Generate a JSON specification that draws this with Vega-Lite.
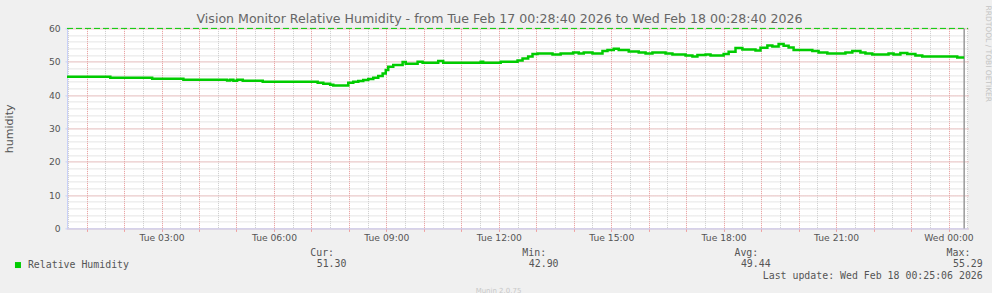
{
  "$schema": "https://vega.github.io/schema/vega-lite/v6.json",
  "background": "#f0f0f0",
  "padding": {"left": 3, "top": 4.4, "right": 0, "bottom": 0},
  "bounds": "flush",
  "spacing": 10,
  "config": {
    "view": {"stroke": null},
    "font": "DejaVu Sans",
    "legend": {"symbolBaseFillColor": "#00cc00"}
  },
  "datasets": {
    "humidity": [
      {"t": "2026-02-17T00:28:40", "h": 45.5},
      {"t": "2026-02-17T01:38:00", "h": 45.2},
      {"t": "2026-02-17T02:45:00", "h": 44.9},
      {"t": "2026-02-17T03:35:00", "h": 44.6},
      {"t": "2026-02-17T04:45:00", "h": 44.4},
      {"t": "2026-02-17T04:50:00", "h": 44.6},
      {"t": "2026-02-17T04:55:00", "h": 44.3},
      {"t": "2026-02-17T05:01:00", "h": 44.6},
      {"t": "2026-02-17T05:10:00", "h": 44.3},
      {"t": "2026-02-17T05:42:00", "h": 44.0},
      {"t": "2026-02-17T07:10:00", "h": 43.7},
      {"t": "2026-02-17T07:19:00", "h": 43.4},
      {"t": "2026-02-17T07:30:00", "h": 43.1},
      {"t": "2026-02-17T07:35:00", "h": 42.9},
      {"t": "2026-02-17T07:59:00", "h": 43.7},
      {"t": "2026-02-17T08:07:00", "h": 44.0},
      {"t": "2026-02-17T08:15:00", "h": 44.2},
      {"t": "2026-02-17T08:23:00", "h": 44.5},
      {"t": "2026-02-17T08:31:00", "h": 44.8},
      {"t": "2026-02-17T08:39:00", "h": 45.2},
      {"t": "2026-02-17T08:47:00", "h": 45.7},
      {"t": "2026-02-17T08:54:00", "h": 46.5},
      {"t": "2026-02-17T08:59:00", "h": 47.5},
      {"t": "2026-02-17T09:03:00", "h": 48.5},
      {"t": "2026-02-17T09:11:00", "h": 49.0},
      {"t": "2026-02-17T09:26:00", "h": 49.9},
      {"t": "2026-02-17T09:31:00", "h": 49.4},
      {"t": "2026-02-17T09:50:00", "h": 50.0},
      {"t": "2026-02-17T09:58:00", "h": 49.7},
      {"t": "2026-02-17T10:23:00", "h": 50.2},
      {"t": "2026-02-17T10:31:00", "h": 49.7},
      {"t": "2026-02-17T11:31:00", "h": 50.0},
      {"t": "2026-02-17T11:35:00", "h": 49.7},
      {"t": "2026-02-17T12:03:00", "h": 50.0},
      {"t": "2026-02-17T12:30:00", "h": 50.4},
      {"t": "2026-02-17T12:38:00", "h": 51.0},
      {"t": "2026-02-17T12:47:00", "h": 51.6},
      {"t": "2026-02-17T12:54:00", "h": 52.3},
      {"t": "2026-02-17T13:02:00", "h": 52.5},
      {"t": "2026-02-17T13:26:00", "h": 52.2},
      {"t": "2026-02-17T13:39:00", "h": 52.5},
      {"t": "2026-02-17T13:59:00", "h": 52.8},
      {"t": "2026-02-17T14:08:00", "h": 52.5},
      {"t": "2026-02-17T14:16:00", "h": 52.8},
      {"t": "2026-02-17T14:30:00", "h": 52.5},
      {"t": "2026-02-17T14:46:00", "h": 53.2},
      {"t": "2026-02-17T14:54:00", "h": 53.5},
      {"t": "2026-02-17T15:04:00", "h": 53.9},
      {"t": "2026-02-17T15:12:00", "h": 53.5},
      {"t": "2026-02-17T15:28:00", "h": 53.1},
      {"t": "2026-02-17T15:44:00", "h": 52.8},
      {"t": "2026-02-17T15:55:00", "h": 52.5},
      {"t": "2026-02-17T16:06:00", "h": 52.8},
      {"t": "2026-02-17T16:27:00", "h": 52.5},
      {"t": "2026-02-17T16:38:00", "h": 52.2},
      {"t": "2026-02-17T16:59:00", "h": 51.9},
      {"t": "2026-02-17T17:10:00", "h": 51.6},
      {"t": "2026-02-17T17:18:00", "h": 52.0},
      {"t": "2026-02-17T17:31:00", "h": 52.2},
      {"t": "2026-02-17T17:39:00", "h": 51.9},
      {"t": "2026-02-17T18:00:00", "h": 52.3},
      {"t": "2026-02-17T18:08:00", "h": 53.0},
      {"t": "2026-02-17T18:19:00", "h": 54.1},
      {"t": "2026-02-17T18:30:00", "h": 53.7},
      {"t": "2026-02-17T18:51:00", "h": 53.4},
      {"t": "2026-02-17T18:59:00", "h": 54.2},
      {"t": "2026-02-17T19:10:00", "h": 54.9},
      {"t": "2026-02-17T19:18:00", "h": 54.6},
      {"t": "2026-02-17T19:28:00", "h": 55.3},
      {"t": "2026-02-17T19:36:00", "h": 54.8},
      {"t": "2026-02-17T19:44:00", "h": 54.3},
      {"t": "2026-02-17T19:52:00", "h": 53.5},
      {"t": "2026-02-17T20:22:00", "h": 53.2},
      {"t": "2026-02-17T20:32:00", "h": 52.8},
      {"t": "2026-02-17T20:46:00", "h": 52.5},
      {"t": "2026-02-17T21:15:00", "h": 52.8},
      {"t": "2026-02-17T21:26:00", "h": 53.2},
      {"t": "2026-02-17T21:39:00", "h": 52.8},
      {"t": "2026-02-17T21:47:00", "h": 52.5},
      {"t": "2026-02-17T21:58:00", "h": 52.2},
      {"t": "2026-02-17T22:24:00", "h": 52.5},
      {"t": "2026-02-17T22:32:00", "h": 52.2},
      {"t": "2026-02-17T22:43:00", "h": 52.6},
      {"t": "2026-02-17T22:54:00", "h": 52.3},
      {"t": "2026-02-17T23:07:00", "h": 51.9},
      {"t": "2026-02-17T23:18:00", "h": 51.6},
      {"t": "2026-02-18T00:14:00", "h": 51.3},
      {"t": "2026-02-18T00:25:06", "h": 51.3}
    ],
    "refs": [{"upper": 60, "low": 0, "start": "2026-02-17T00:28:40", "end": "2026-02-18T00:31:12", "last_update": "2026-02-18T00:25:06"}],
    "stats": [
      {"stat": "Cur", "label": "Cur:", "value": "51.30"},
      {"stat": "Min", "label": "Min:", "value": "42.90"},
      {"stat": "Avg", "label": "Avg:", "value": "49.44"},
      {"stat": "Max", "label": "Max:", "value": "55.29"}
    ],
    "update": [{"stat": "Max", "text": "Last update: Wed Feb 18 00:25:06 2026"}]
  },
  "vconcat": [
    {
      "width": 901,
      "height": 200,
      "title": {
        "text": "Vision Monitor Relative Humidity - from Tue Feb 17 00:28:40 2026 to Wed Feb 18 00:28:40 2026",
        "anchor": "start", "frame": "group", "dx": 129.5, "dy": 23, "offset": 2,
        "font": "DejaVu Sans", "fontSize": 12.6, "fontWeight": "normal", "color": "#666666"
      },
      "view": {"fill": "#ffffff", "stroke": null},
      "layer": [
        {
          "data": {"name": "refs"},
          "mark": {"type": "rule", "color": "#00cc00", "strokeDash": [6, 3], "strokeWidth": 1},
          "encoding": {
            "x": {
              "field": "start", "type": "temporal",
              "axis": {"orient": "bottom", "tickCount": 48, "grid": true, "gridColor": "#cccccc", "gridDash": [1, 1],
                       "labels": false, "ticks": false, "domain": false, "title": null}
            },
            "x2": {"field": "end"},
            "y": {
              "field": "upper", "type": "quantitative",
              "axis": {"orient": "left", "values": [0, 2, 4, 6, 8, 10, 12, 14, 16, 18, 20, 22, 24, 26, 28, 30, 32, 34, 36, 38, 40, 42, 44, 46, 48, 50, 52, 54, 56, 58, 60],
                       "grid": true, "gridColor": "#cccccc", "gridDash": [1, 1],
                       "labels": false, "ticks": false, "domain": false, "title": null}
            }
          }
        },
        {
          "data": {"name": "refs"},
          "mark": {"type": "rule", "color": "#999999", "strokeWidth": 1.5},
          "encoding": {
            "x": {
              "field": "last_update", "type": "temporal",
              "axis": {"orient": "bottom", "tickCount": 24, "grid": true, "gridColor": "#f0a0a0", "gridDash": [1, 1],
                       "labels": false, "ticks": true, "tickColor": "#f0a0a0", "tickSize": 3, "domain": false, "title": null}
            },
            "y": {
              "field": "low", "type": "quantitative",
              "axis": {
                "orient": "left", "values": [0, 10, 20, 30, 40, 50, 60],
                "grid": true, "gridColor": "#f0a0a0", "gridDash": [1, 1],
                "labelFont": "DejaVu Sans", "labelFontSize": 9.2, "labelColor": "#555555", "labelPadding": 4.8,
                "tickColor": "#c8d0f8", "tickSize": 2,
                "domainColor": "#c8d0f8",
                "title": "humidity", "titleFont": "DejaVu Sans", "titleFontSize": 11.1, "titleFontWeight": "normal",
                "titleColor": "#555555", "titlePadding": 34
              }
            },
            "y2": {"field": "upper"}
          }
        },
        {
          "data": {"name": "humidity"},
          "mark": {"type": "line", "interpolate": "step-after", "strokeWidth": 2.5},
          "encoding": {
            "x": {
              "field": "t", "type": "temporal",
              "scale": {"domain": [
                {"year": 2026, "month": 2, "date": 17, "hours": 0, "minutes": 28, "seconds": 40},
                {"year": 2026, "month": 2, "date": 18, "hours": 0, "minutes": 31, "seconds": 12}
              ]},
              "axis": {
                "orient": "bottom", "title": null, "tickCount": 8, "format": "%a %H:%M",
                "labelOverlap": false, "labelFlush": false, "labelPadding": 5,
                "labelFont": "DejaVu Sans", "labelFontSize": 9.2, "labelColor": "#555555",
                "grid": false, "ticks": false, "tickSize": 0,
                "domainColor": "#c8d0f8", "domainWidth": 1
              }
            },
            "y": {
              "field": "h", "type": "quantitative",
              "scale": {"domain": [0, 60], "nice": false},
              "axis": {
                "orient": "right", "labels": false, "ticks": false, "domain": false, "grid": false,
                "title": "RRDTOOL / TOBI OETIKER", "titleAngle": 90, "titleAlign": "left", "titleBaseline": "middle",
                "titleX": 20, "titleY": -23.3,
                "titleFont": "DejaVu Sans", "titleFontSize": 7.5, "titleFontWeight": "normal", "titleColor": "#c4c4c4"
              }
            },
            "color": {
              "datum": "Relative Humidity",
              "scale": {"range": ["#00cc00"]},
              "legend": {
                "orient": "none", "legendX": -54, "legendY": 231.7,
                "title": null, "padding": 0, "offset": 0,
                "symbolType": "square", "symbolSize": 36, "symbolStrokeWidth": 0, "symbolFillColor": "#00cc00",
                "labelFont": "DejaVu Sans Mono", "labelFontSize": 9.9, "labelColor": "#555555", "labelOffset": 5
              }
            }
          }
        }
      ],
      "resolve": {"axis": {"x": "independent", "y": "independent"}}
    },
    {
      "width": 920,
      "height": 46,
      "view": {"stroke": null},
      "layer": [
        {
          "data": {"name": "stats"},
          "mark": {"type": "text", "align": "right", "baseline": "middle", "dx": -12.4, "font": "DejaVu Sans Mono", "fontSize": 9.9, "color": "#555555"},
          "encoding": {
            "x": {
              "field": "stat", "type": "nominal",
              "scale": {"type": "point", "domain": ["Cur", "Min", "Avg", "Max"], "padding": 0.6688, "align": 0.985},
              "axis": {
                "labels": false, "ticks": false, "domain": false, "grid": false,
                "title": "Munin 2.0.75", "titleFont": "DejaVu Sans", "titleFontSize": 7, "titleFontWeight": "normal",
                "titleColor": "#c8c8c8", "titlePadding": 2, "titleX": 431, "titleAlign": "center"
              }
            },
            "y": {
              "datum": "header", "type": "nominal",
              "scale": {"type": "point", "domain": ["header", "value", "update"], "padding": 0.974, "align": 0.634},
              "axis": null
            },
            "text": {"field": "label"}
          }
        },
        {
          "data": {"name": "stats"},
          "mark": {"type": "text", "align": "right", "baseline": "middle", "font": "DejaVu Sans Mono", "fontSize": 9.9, "color": "#555555"},
          "encoding": {
            "x": {"field": "stat", "type": "nominal"},
            "y": {"datum": "value", "type": "nominal"},
            "text": {"field": "value"}
          }
        },
        {
          "data": {"name": "update"},
          "mark": {"type": "text", "align": "right", "baseline": "middle", "font": "DejaVu Sans Mono", "fontSize": 9.9, "color": "#555555"},
          "encoding": {
            "x": {"field": "stat", "type": "nominal"},
            "y": {"datum": "update", "type": "nominal"},
            "text": {"field": "text"}
          }
        }
      ]
    }
  ]
}
